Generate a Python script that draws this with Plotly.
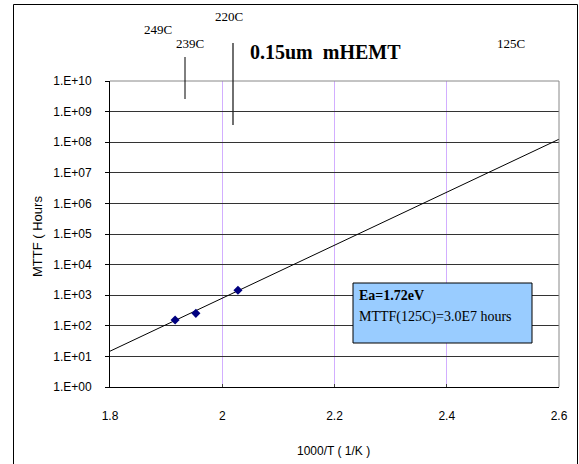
import plotly.graph_objects as go

# ---- data ----
inv_temp = [1.916, 1.953, 2.028]          # 1000/T (1/K) for 249C, 239C, 220C
mttf_hours = [155, 255, 1450]             # measured MTTF (hours)
trend_x = [1.8, 2.6]                      # Arrhenius fit line ends
trend_y = [14.8, 1.25e8]
x_ticks = [1.8, 2.0, 2.2, 2.4, 2.6]
x_tick_labels = ["1.8", "2", "2.2", "2.4", "2.6"]
y_ticks = [1, 10, 100, 1e3, 1e4, 1e5, 1e6, 1e7, 1e8, 1e9, 1e10]
y_tick_labels = ["1.E+00", "1.E+01", "1.E+02", "1.E+03", "1.E+04", "1.E+05",
                 "1.E+06", "1.E+07", "1.E+08", "1.E+09", "1.E+10"]
temp_labels = ["249C", "239C", "220C", "125C"]

W, H = 579, 464
L, R, T, B = 110, 559, 81, 387


def px(x):
    return (x - L) / (R - L)


def py(y):
    return (B - y) / (B - T)


fig = go.Figure()
fig.add_trace(go.Scatter(x=trend_x, y=trend_y, mode="lines",
                         line=dict(color="black", width=1), showlegend=False,
                         hoverinfo="skip"))
fig.add_trace(go.Scatter(x=inv_temp, y=mttf_hours, mode="markers",
                         marker=dict(symbol="diamond", size=7, color="#000080"),
                         showlegend=False))

axis_font = dict(family="Liberation Sans, Arial", size=12, color="black")
serif = "Liberation Serif, Times New Roman"

fig.update_layout(
    width=W, height=H,
    margin=dict(l=L, r=W - R, t=T, b=H - B),
    paper_bgcolor="white", plot_bgcolor="white",
    font=axis_font,
    xaxis=dict(range=[1.8, 2.6], tickvals=x_ticks, ticktext=x_tick_labels,
               showgrid=True, gridcolor="#D2AEFF", gridwidth=1,
               zeroline=False, showline=True, linecolor="black", linewidth=1,
               ticks="inside", ticklen=3, tickcolor="#444",
               ticklabelstandoff=18, tickfont=axis_font),
    yaxis=dict(type="log", range=[0, 10], tickvals=y_ticks, ticktext=y_tick_labels,
               showgrid=True, gridcolor="#333333", gridwidth=1,
               zeroline=False, showline=True, linecolor="black", linewidth=1,
               ticks="outside", ticklen=4, tickcolor="black",
               ticklabelstandoff=11, tickfont=axis_font),
)

shapes = []
# top and right plot borders (grey)
shapes.append(dict(type="line", xref="paper", yref="paper", x0=0, x1=1, y0=1, y1=1,
                   line=dict(color="#888888", width=1)))
shapes.append(dict(type="line", xref="paper", yref="paper", x0=1, x1=1, y0=0, y1=1,
                   line=dict(color="#888888", width=1)))
# temperature marker lines
shapes.append(dict(type="line", xref="paper", yref="paper", x0=px(185), x1=px(185),
                   y0=py(57), y1=py(99), line=dict(color="black", width=1)))
shapes.append(dict(type="line", xref="paper", yref="paper", x0=px(233), x1=px(233),
                   y0=py(43), y1=py(125), line=dict(color="#222222", width=1.3)))
# info box
shapes.append(dict(type="rect", xref="paper", yref="paper", x0=px(353), x1=px(532),
                   y0=py(343), y1=py(283), fillcolor="#99CCFF",
                   line=dict(color="black", width=1)))
# outer frame
shapes.append(dict(type="rect", xref="paper", yref="paper", x0=px(13.5), x1=px(577.5),
                   y0=py(470), y1=py(4.5), line=dict(color="black", width=1),
                   fillcolor="rgba(0,0,0,0)"))

ann = []
def text(x, y, s, size=14, bold=False, family=serif, xanchor="center", angle=0):
    ann.append(dict(x=px(x), y=py(y), xref="paper", yref="paper", text=("<b>%s</b>" % s) if bold else s,
                    showarrow=False, xanchor=xanchor, yanchor="middle", textangle=angle,
                    font=dict(family=family, size=size, color="black")))

text(158, 30, temp_labels[0], size=13)
text(190, 43, temp_labels[1], size=13)
text(229, 16, temp_labels[2], size=13)
text(511, 44, temp_labels[3], size=13)
text(325, 52, "0.15um&nbsp;&nbsp;mHEMT", size=20, bold=True)
text(357, 295, "Ea=1.72eV", size=14, bold=True, xanchor="left")
text(357, 317, "MTTF(125C)=3.0E7 hours", size=14, xanchor="left")
text(333, 451, "1000/T ( 1/K )", size=12, family="Liberation Sans, Arial")
text(37, 237, "MTTF ( Hours", size=13, family="Liberation Sans, Arial", angle=-90)

fig.update_layout(shapes=shapes, annotations=ann)
fig.write_html("out.html", config={"displayModeBar": False},
               post_script="document.body.style.margin='0';")
